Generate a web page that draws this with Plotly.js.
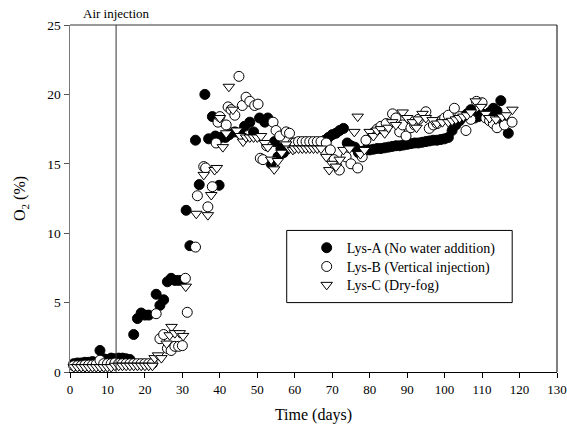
<!DOCTYPE html>
<html>
<head>
<meta charset="utf-8">
<script src="https://cdn.plot.ly/plotly-3.0.1.min.js"></script>
<style>html,body{margin:0;padding:0;background:#fff;}#chart{width:567px;height:434px;}</style>
</head>
<body>
<div id="chart"></div>
<script>
// Lys-A (No water addition)
const daysA = [1,2,3,4,5,6,7,8,9,10,11,12,13,14,15,16,
  17,18,19,20,21,23,24,25,26,27,28,29,30,31,32,33.5,34.5,36,37,38,38.8,39.8,40.3,41.5,42.5,44,45.3,46.6,48,49,50.6,52,52.8,53.7,54.6,55.5,56.3,57,58,59,60,61,62,63,64,65,66,
  67,68,69,70,71,72,73,74,75,76,77,78,79,80,81,82,83,84,85,86,87,88,89,90,91,92,93,94,95,96,97,98,99,100,101,
  102,103,104,105,106,107,108,109,110,111,112,113,114,115,116,117];
const o2A = [0.6,0.65,0.65,0.7,0.7,0.75,0.7,1.55,0.95,0.9,1.0,0.95,1.0,1.0,0.95,0.9,
  2.7,3.85,4.25,4.1,4.1,5.6,4.8,5.2,6.5,6.75,6.6,6.6,6.6,11.65,9.1,16.7,13.5,20.0,16.8,18.4,17.0,13.45,16.9,16.9,17.1,17.3,17.2,17.7,18.0,17.3,18.3,18.0,18.3,15.0,16.6,15.5,16.1,15.8,16.1,16.2,16.3,16.3,16.3,16.35,16.35,16.4,16.4,
  16.5,16.7,16.9,17.1,17.2,17.4,17.55,16.5,16.3,16.2,15.8,15.9,16.0,16.0,16.05,16.1,16.1,16.15,16.2,16.25,16.3,16.3,16.35,16.4,16.45,16.5,16.5,16.55,16.6,16.65,16.7,16.7,16.75,16.8,16.9,
  17.4,17.8,18.1,18.4,18.6,18.9,18.3,18.4,18.6,18.5,18.7,19.0,18.8,19.55,18.0,17.2];

// Lys-B (Vertical injection)
const daysB = [1,2,3,4,5,6,7,8,9,10,11,12,13,14,15,16,17,18,19,20,21,22,
  23,24,25,26,27,28,29,30,30.8,31.3,33.5,34,35.7,36.2,36.8,38,39,39.5,40,41.7,42.2,43,44,45.1,46,47,48,49.3,50.2,50.8,51.5,52.5,54.2,55,56,57.7,58.6,
  59.5,60,61,62,63,64,65,66,67,68.4,69.5,70.5,71.9,73.7,75,76.8,78,79,80.8,82,83,84.4,86.1,87,88,88.8,89.7,91,92,93,95,95.9,97,98,99,100,101,102.6,104,105.7,107,108.5,110,111,112,113,114,116,118];
const o2B = [0.45,0.45,0.45,0.5,0.5,0.5,0.55,0.85,0.6,0.6,0.6,0.65,0.6,0.6,0.6,0.6,0.6,0.6,0.6,0.6,0.6,0.6,
  4.2,2.4,2.7,1.7,1.55,1.85,1.85,1.9,6.75,4.3,9.0,12.7,14.8,14.7,11.9,13.35,16.5,18.0,18.4,17.8,19.1,18.9,18.5,21.3,19.2,19.8,19.5,19.2,19.3,15.4,15.3,16.3,18.0,17.4,17.0,17.3,17.2,
  16.5,16.5,16.6,16.6,16.6,16.6,16.6,16.6,16.6,16.5,16.0,15.3,14.55,15.5,15.0,14.7,15.5,16.7,17.2,17.5,17.7,17.9,18.6,18.3,17.3,17.8,17.0,17.6,17.8,18.2,18.75,17.55,17.8,17.9,18.1,18.3,18.5,19.0,18.4,17.4,18.2,19.5,19.4,18.3,18.1,17.9,17.6,17.8,18.0,18.2];

// Lys-C (Dry-fog)
const daysC = [1,2,3,4,5,6,7,8,9,10,11,12,13,14,15,16,17,18,19,20,21,22,
  22.6,23.5,24.4,25.8,26.6,27.1,28,29.3,30.2,30.9,33.7,35.7,36.8,37.7,38.6,39.2,40,40.8,41.7,42.4,43.5,44.5,45.5,46.2,47,48,49,50,51,52,52.8,53.7,54.5,55.5,56.5,57.7,58.6,
  59.5,60,61,62,63,64,65,66,67,68.4,69.2,70,71,72,73,74.6,75.9,76.8,77.5,78.6,80,81,82,83,84,85,86,87,88.8,90,91.5,92.5,93,94.1,95,96.8,98,99.4,101,102,103,104,105,106,107,108.3,109.7,111,112,113.7,115.4,116.5,118.1];
const o2C = [0.35,0.35,0.35,0.35,0.35,0.35,0.35,0.35,0.35,0.35,0.35,0.45,0.45,0.45,0.45,0.45,0.45,0.45,0.45,0.45,0.45,0.45,
  1.0,1.2,1.0,2.05,2.65,3.25,2.8,2.8,2.6,6.15,11.4,14.2,11.3,12.75,14.55,14.7,18.3,16.2,17.2,20.55,18.9,17.4,17.0,16.6,16.9,16.9,16.9,16.9,17.0,16.5,16.2,15.3,14.6,15.2,15.8,16.4,16.1,
  16.0,16.1,16.1,16.1,16.1,16.1,16.1,16.1,16.1,15.5,14.55,15.0,14.8,15.3,16.0,16.1,17.3,18.4,15.7,16.0,17.3,17.0,17.4,17.5,17.2,17.6,18.0,17.8,18.7,18.3,18.0,17.6,18.2,18.6,18.3,18.15,17.9,18.0,18.0,18.1,18.2,18.3,18.4,18.5,18.7,19.5,19.1,18.6,18.3,18.2,18.4,18.5,18.9];

const seriesNames = ['Lys-A (No water addition)', 'Lys-B (Vertical injection)', 'Lys-C (Dry-fog)'];
const airInjectionDay = 12.3;
const xTicks = [0,10,20,30,40,50,60,70,80,90,100,110,120,130];
const yTicks = [0,5,10,15,20,25];

const serif = 'Liberation Serif';

const traces = [
  {x: daysA, y: o2A, name: seriesNames[0], legend: 'legend', mode: 'markers', type: 'scatter', cliponaxis: false,
   marker: {symbol: 'circle', size: 10, color: '#000', line: {color: '#000', width: 1}}},
  {x: daysB, y: o2B, name: seriesNames[1], legend: 'legend2', mode: 'markers', type: 'scatter', cliponaxis: false,
   marker: {symbol: 'circle', size: 10, color: '#fff', line: {color: '#000', width: 1}}},
  {x: daysC, y: o2C, name: seriesNames[2], legend: 'legend3', mode: 'markers', type: 'scatter', cliponaxis: false,
   marker: {symbol: 'triangle-down', size: 10, color: '#fff', line: {color: '#000', width: 1}}}
];

const legendBase = {x: 0.486, xanchor: 'left', yanchor: 'middle', bgcolor: 'rgba(0,0,0,0)',
                    borderwidth: 0, font: {family: serif, size: 14, color: '#000'}};

const layout = {
  width: 567, height: 434,
  margin: {l: 70, r: 10, t: 25, b: 62},
  paper_bgcolor: '#fff', plot_bgcolor: '#fff',
  font: {family: serif, size: 14, color: '#000'},
  showlegend: true,
  legend: Object.assign({}, legendBase, {y: 0.357}),
  legend2: Object.assign({}, legendBase, {y: 0.303}),
  legend3: Object.assign({}, legendBase, {y: 0.250}),
  xaxis: {range: [0, 130], tickvals: xTicks, ticktext: xTicks.map(String), ticks: 'outside', ticklen: 5,
          ticklabeloverflow: 'allow',
          tickcolor: '#000', showline: true, linecolor: '#000', linewidth: 1, showgrid: false, zeroline: false,
          tickfont: {family: serif, size: 13},
          title: {text: 'Time (days)', font: {family: serif, size: 16}, standoff: 13}, automargin: false},
  yaxis: {range: [0, 25], tickvals: yTicks, ticktext: yTicks.map(String), ticks: 'outside', ticklen: 5,
          tickcolor: '#555', showline: true, linecolor: '#777', linewidth: 1.5, showgrid: false, zeroline: false,
          tickfont: {family: serif, size: 13.5},
          title: {text: 'O<sub>2</sub> (%)', font: {family: serif, size: 16}, standoff: 17}, automargin: false},
  shapes: [
    {type: 'line', xref: 'paper', yref: 'paper', x0: 0, x1: 1, y0: 1, y1: 1, line: {color: '#777', width: 1.5}},
    {type: 'line', xref: 'paper', yref: 'paper', x0: 1, x1: 1, y0: 0, y1: 1, line: {color: '#000', width: 1}},
    {type: 'line', xref: 'x', yref: 'paper', x0: airInjectionDay, x1: airInjectionDay, y0: 0, y1: 1, line: {color: '#333', width: 1}},
    {type: 'rect', xref: 'paper', yref: 'paper', x0: 0.445, x1: 0.908, y0: 0.2, y1: 0.408,
     line: {color: '#000', width: 1}, fillcolor: '#fff', layer: 'below'}
  ],
  annotations: [
    {text: 'Air injection', xref: 'x', yref: 'paper', x: airInjectionDay, y: 1, yanchor: 'bottom', yshift: 2,
     showarrow: false, font: {family: serif, size: 13, color: '#000'}}
  ]
};

Plotly.newPlot('chart', traces, layout, {displayModeBar: false, staticPlot: true});
</script>
</body>
</html>
